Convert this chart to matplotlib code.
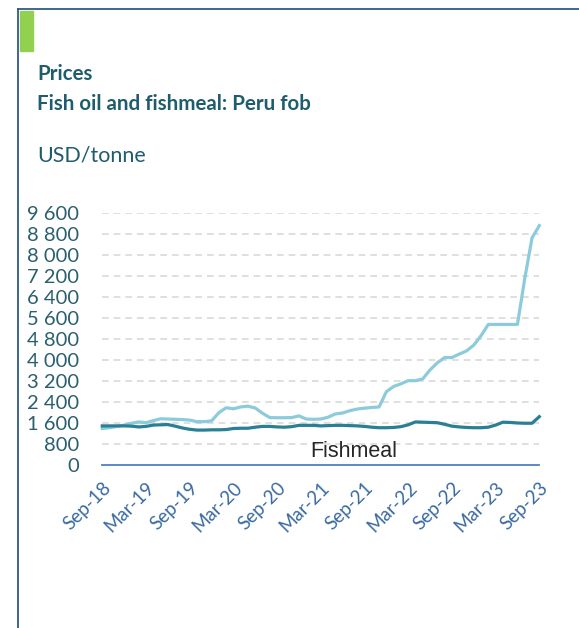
import matplotlib
matplotlib.use('Agg')
import matplotlib.pyplot as plt
from matplotlib.patches import Rectangle
from matplotlib.lines import Line2D

# monthly, Sep-18 .. Sep-23 (USD/tonne)
fish_oil = [1400, 1430, 1480, 1530, 1600, 1650, 1620, 1700, 1770, 1760,
            1750, 1740, 1720, 1660, 1660, 1690, 2000, 2190, 2150, 2220,
            2250, 2180, 1980, 1815, 1810, 1810, 1815, 1880, 1760, 1750,
            1760, 1830, 1955, 1990, 2080, 2140, 2175, 2200, 2220, 2800,
            3000, 3100, 3220, 3220, 3290, 3630, 3900, 4100, 4100, 4230,
            4350, 4570, 4930, 5360, 5360, 5360, 5360, 5360, 7100, 8650,
            9120]
fishmeal = [1500, 1500, 1500, 1500, 1490, 1460, 1480, 1530, 1540, 1550,
            1490, 1420, 1370, 1340, 1340, 1350, 1350, 1360, 1400, 1410,
            1410, 1450, 1480, 1480, 1460, 1450, 1470, 1520, 1520, 1520,
            1500, 1510, 1520, 1520, 1510, 1500, 1480, 1450, 1430, 1430,
            1440, 1470, 1540, 1650, 1640, 1630, 1620, 1560, 1490, 1460,
            1440, 1430, 1430, 1450, 1530, 1640, 1630, 1610, 1600, 1600,
            1850]
tick_labels = ['Sep-18', 'Mar-19', 'Sep-19', 'Mar-20', 'Sep-20', 'Mar-21',
               'Sep-21', 'Mar-22', 'Sep-22', 'Mar-23', 'Sep-23']
y_ticks = [0, 800, 1600, 2400, 3200, 4000, 4800, 5600, 6400, 7200, 8000, 8800, 9600]

W, H = 579, 628
fig = plt.figure(figsize=(W / 100, H / 100), dpi=100)

# frame and green marker
fig.add_artist(Line2D([18 / W, 1], [1 - 9 / H, 1 - 9 / H], color='#2f5b8c', lw=1.3))
fig.add_artist(Line2D([18 / W, 18 / W], [0, 1 - 9 / H], color='#2f5b8c', lw=1.3))
fig.add_artist(Rectangle((20 / W, 1 - 51 / H), 13 / W, 40 / H, color='#92d050'))

title_c = '#1f5d6e'
fig.text(37 / W, 1 - 80 / H, 'Prices', family='Lato', weight='bold', size=14.8, color=title_c)
fig.text(37 / W, 1 - 110 / H, 'Fish oil and fishmeal: Peru fob', family='Lato',
         weight='bold', size=14.8, color=title_c)
fig.text(37 / W, 1 - 161 / H, 'USD/tonne', family='Lato', size=15.5, color=title_c)

ax = fig.add_axes([102.3 / W, 1 - 465.3 / H, 437 / W, 252.3 / H])
x = list(range(len(fish_oil)))
ax.plot(x, fish_oil, color='#8ccbdc', lw=2.3, clip_on=False, zorder=3)
ax.plot(x, fishmeal, color='#2a7f94', lw=2.3, clip_on=False, zorder=4)

ax.set_xlim(0, 60)
ax.set_ylim(0, 9600)
ax.set_yticks(y_ticks)
ax.set_yticklabels([f'{v:,}'.replace(',', ' ') for v in y_ticks])
ax.set_xticks(range(0, 61, 6))
ax.set_xticklabels(tick_labels, rotation=45, ha='right', va='top', rotation_mode='anchor')

for v in y_ticks[1:]:
    ax.axhline(v, color='#d9d9d9', lw=1.2, ls=(0, (4, 3)), zorder=1)

for s in ['top', 'right', 'left']:
    ax.spines[s].set_visible(False)
ax.spines['bottom'].set_color('#4f7fbf')
ax.spines['bottom'].set_linewidth(1.3)
ax.tick_params(axis='y', length=0, pad=16.5, labelsize=14.5, labelcolor='#2a5f6e')
ax.tick_params(axis='x', length=0, pad=10, labelsize=13.5, labelcolor='#3a6aa0')
for lab in ax.get_yticklabels() + ax.get_xticklabels():
    lab.set_family('Lato')

ax.text(28.5, 530, 'Fishmeal', family='Liberation Sans', size=15.5, color='#262626',
        va='center', ha='left')

fig.savefig('out.png', dpi=100)
